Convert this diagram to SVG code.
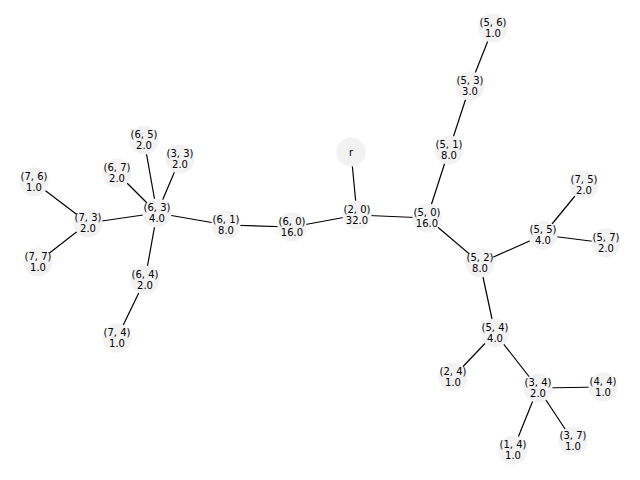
<svg xmlns="http://www.w3.org/2000/svg" width="640" height="480" viewBox="0 0 640 480">
<style>
.e line{stroke:#000;stroke-width:1.2}
.n circle{fill:#f2f2f2}
.n text{font-family:"DejaVu Sans",sans-serif;font-size:10px;fill:#000;text-anchor:middle}
</style>
<rect width="640" height="480" fill="#fff"/>
<g id="connectors" class="e">
<line x1="351" y1="152" x2="357" y2="215"/>
<line x1="357" y1="215" x2="427" y2="218"/>
<line x1="357" y1="215" x2="292" y2="227"/>
<line x1="427" y1="218" x2="449" y2="150"/>
<line x1="449" y1="150" x2="470" y2="86"/>
<line x1="470" y1="86" x2="493" y2="28"/>
<line x1="427" y1="218" x2="480" y2="263"/>
<line x1="480" y1="263" x2="543" y2="235"/>
<line x1="543" y1="235" x2="584" y2="185"/>
<line x1="543" y1="235" x2="606" y2="243"/>
<line x1="480" y1="263" x2="495" y2="333"/>
<line x1="495" y1="333" x2="453" y2="377"/>
<line x1="495" y1="333" x2="538" y2="388"/>
<line x1="538" y1="388" x2="603" y2="387"/>
<line x1="538" y1="388" x2="513" y2="450"/>
<line x1="538" y1="388" x2="573" y2="441"/>
<line x1="292" y1="227" x2="226" y2="225"/>
<line x1="226" y1="225" x2="157" y2="213"/>
<line x1="157" y1="213" x2="88" y2="223"/>
<line x1="88" y1="223" x2="34" y2="182"/>
<line x1="88" y1="223" x2="38" y2="262"/>
<line x1="157" y1="213" x2="117" y2="173"/>
<line x1="157" y1="213" x2="144" y2="140"/>
<line x1="157" y1="213" x2="180" y2="159"/>
<line x1="157" y1="213" x2="145" y2="280"/>
<line x1="145" y1="280" x2="117" y2="338"/>
</g>
<g id="n_r" class="n"><circle cx="351" cy="152" r="14.5"/><text x="351" y="155.5">r</text></g>
<g id="n_2_0" class="n"><circle cx="357" cy="215" r="14.5"/><text x="357" y="212.5">(2, 0)</text><text x="357" y="224">32.0</text></g>
<g id="n_5_0" class="n"><circle cx="427" cy="218" r="14.5"/><text x="427" y="215.5">(5, 0)</text><text x="427" y="227">16.0</text></g>
<g id="n_5_1" class="n"><circle cx="449" cy="150" r="14.5"/><text x="449" y="147.5">(5, 1)</text><text x="449" y="159">8.0</text></g>
<g id="n_5_3" class="n"><circle cx="470" cy="86" r="14.5"/><text x="470" y="83.5">(5, 3)</text><text x="470" y="95">3.0</text></g>
<g id="n_5_6" class="n"><circle cx="493" cy="28" r="14.5"/><text x="493" y="25.5">(5, 6)</text><text x="493" y="37">1.0</text></g>
<g id="n_5_2" class="n"><circle cx="480" cy="263" r="14.5"/><text x="480" y="260.5">(5, 2)</text><text x="480" y="272">8.0</text></g>
<g id="n_5_5" class="n"><circle cx="543" cy="235" r="14.5"/><text x="543" y="232.5">(5, 5)</text><text x="543" y="244">4.0</text></g>
<g id="n_7_5" class="n"><circle cx="584" cy="185" r="14.5"/><text x="584" y="182.5">(7, 5)</text><text x="584" y="194">2.0</text></g>
<g id="n_5_7" class="n"><circle cx="606" cy="243" r="14.5"/><text x="606" y="240.5">(5, 7)</text><text x="606" y="252">2.0</text></g>
<g id="n_5_4" class="n"><circle cx="495" cy="333" r="14.5"/><text x="495" y="330.5">(5, 4)</text><text x="495" y="342">4.0</text></g>
<g id="n_2_4" class="n"><circle cx="453" cy="377" r="14.5"/><text x="453" y="374.5">(2, 4)</text><text x="453" y="386">1.0</text></g>
<g id="n_3_4" class="n"><circle cx="538" cy="388" r="14.5"/><text x="538" y="385.5">(3, 4)</text><text x="538" y="397">2.0</text></g>
<g id="n_4_4" class="n"><circle cx="603" cy="387" r="14.5"/><text x="603" y="384.5">(4, 4)</text><text x="603" y="396">1.0</text></g>
<g id="n_1_4" class="n"><circle cx="513" cy="450" r="14.5"/><text x="513" y="447.5">(1, 4)</text><text x="513" y="459">1.0</text></g>
<g id="n_3_7" class="n"><circle cx="573" cy="441" r="14.5"/><text x="573" y="438.5">(3, 7)</text><text x="573" y="450">1.0</text></g>
<g id="n_6_0" class="n"><circle cx="292" cy="227" r="14.5"/><text x="292" y="224.5">(6, 0)</text><text x="292" y="236">16.0</text></g>
<g id="n_6_1" class="n"><circle cx="226" cy="225" r="14.5"/><text x="226" y="222.5">(6, 1)</text><text x="226" y="234">8.0</text></g>
<g id="n_6_3" class="n"><circle cx="157" cy="213" r="14.5"/><text x="157" y="210.5">(6, 3)</text><text x="157" y="222">4.0</text></g>
<g id="n_7_3" class="n"><circle cx="88" cy="223" r="14.5"/><text x="88" y="220.5">(7, 3)</text><text x="88" y="232">2.0</text></g>
<g id="n_7_6" class="n"><circle cx="34" cy="182" r="14.5"/><text x="34" y="179.5">(7, 6)</text><text x="34" y="191">1.0</text></g>
<g id="n_7_7" class="n"><circle cx="38" cy="262" r="14.5"/><text x="38" y="259.5">(7, 7)</text><text x="38" y="271">1.0</text></g>
<g id="n_6_7" class="n"><circle cx="117" cy="173" r="14.5"/><text x="117" y="170.5">(6, 7)</text><text x="117" y="182">2.0</text></g>
<g id="n_6_5" class="n"><circle cx="144" cy="140" r="14.5"/><text x="144" y="137.5">(6, 5)</text><text x="144" y="149">2.0</text></g>
<g id="n_3_3" class="n"><circle cx="180" cy="159" r="14.5"/><text x="180" y="156.5">(3, 3)</text><text x="180" y="168">2.0</text></g>
<g id="n_6_4" class="n"><circle cx="145" cy="280" r="14.5"/><text x="145" y="277.5">(6, 4)</text><text x="145" y="289">2.0</text></g>
<g id="n_7_4" class="n"><circle cx="117" cy="338" r="14.5"/><text x="117" y="335.5">(7, 4)</text><text x="117" y="347">1.0</text></g>
</svg>
